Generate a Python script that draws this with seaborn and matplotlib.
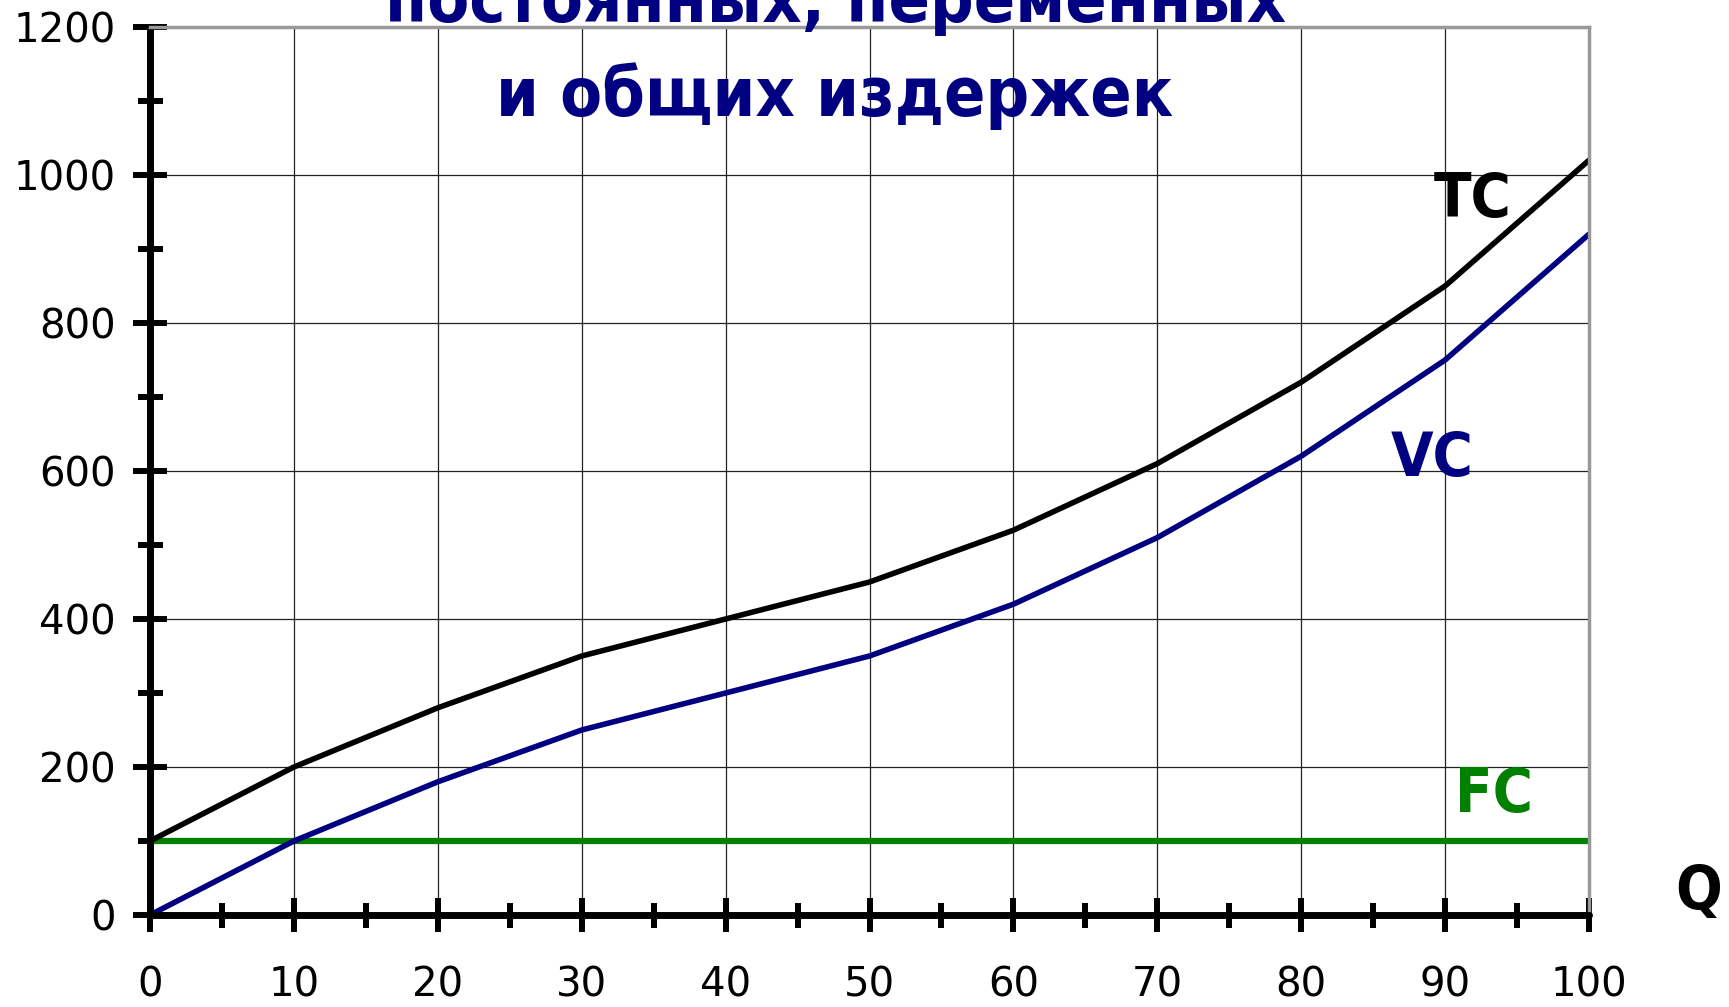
import numpy as np
import pandas as pd
import seaborn as sns
import matplotlib.pyplot as plt
from matplotlib.ticker import MultipleLocator

# values
q = [0, 10, 20, 30, 40, 50, 60, 70, 80, 90, 100]
fc = [100, 100, 100, 100, 100, 100, 100, 100, 100, 100, 100]
vc = [0, 100, 180, 250, 300, 350, 420, 510, 620, 750, 920]
tc = [100, 200, 280, 350, 400, 450, 520, 610, 720, 850, 1020]

df = pd.DataFrame({'Q': q, 'FC': fc, 'VC': vc, 'TC': tc})

sns.set_style('white')
plt.rcParams['font.family'] = ['DejaVu Sans']

fig = plt.figure(figsize=(17.29, 10.07), dpi=100)
ax = fig.add_axes([150 / 1729, 92 / 1007, 1439 / 1729, 888 / 1007])

sns.lineplot(data=df, x='Q', y='FC', color='#008000', linewidth=4.5, ax=ax)
sns.lineplot(data=df, x='Q', y='VC', color='#000080', linewidth=4, ax=ax)
sns.lineplot(data=df, x='Q', y='TC', color='black', linewidth=4, ax=ax)

ax.set_xlim(0, 100)
ax.set_ylim(0, 1200)
ax.xaxis.set_major_locator(MultipleLocator(10))
ax.xaxis.set_minor_locator(MultipleLocator(5))
ax.yaxis.set_major_locator(MultipleLocator(200))
ax.yaxis.set_minor_locator(MultipleLocator(100))
ax.set_xlabel('')
ax.set_ylabel('')

ax.grid(True, which='major', color='#222222', linewidth=0.9)
ax.set_axisbelow(True)

for s in ['left', 'bottom']:
    ax.spines[s].set_color('black')
    ax.spines[s].set_linewidth(5)
    ax.spines[s].set_capstyle('round')
for s in ['top', 'right']:
    ax.spines[s].set_color('#999999')
    ax.spines[s].set_linewidth(2.5)

ax.tick_params(axis='both', which='major', direction='inout', length=25,
               width=4.3, color='black', labelsize=29, labelcolor='black')
ax.tick_params(axis='both', which='minor', direction='inout', length=18,
               width=4.3, color='black')
ax.tick_params(axis='x', which='major', pad=24)
ax.tick_params(axis='y', which='major', pad=12)
ax.tick_params(left=True, bottom=True, which='both')

# curve labels
lab = dict(fontsize=44, fontweight='bold', fontstretch='condensed',
           ha='center', va='center')
ax.text(91.9, 965, 'TC', color='black', **lab)
ax.text(89.1, 615, 'VC', color='#000080', **lab)
ax.text(93.4, 161, 'FC', color='#008000', **lab)
ax.text(107.6, 30, 'Q', color='black', clip_on=False, **lab)

# title (top line runs off the picture, as in the source)
ttl = dict(color='#000080', fontsize=49, fontweight='bold',
           fontstretch='condensed', ha='center', va='baseline')
fig.text(0.483, 1 - 22 / 1007, 'постоянных, переменных', **ttl)
fig.text(0.483, 1 - 116 / 1007, 'и общих издержек', **ttl)

fig.savefig('out.png', dpi=100)
